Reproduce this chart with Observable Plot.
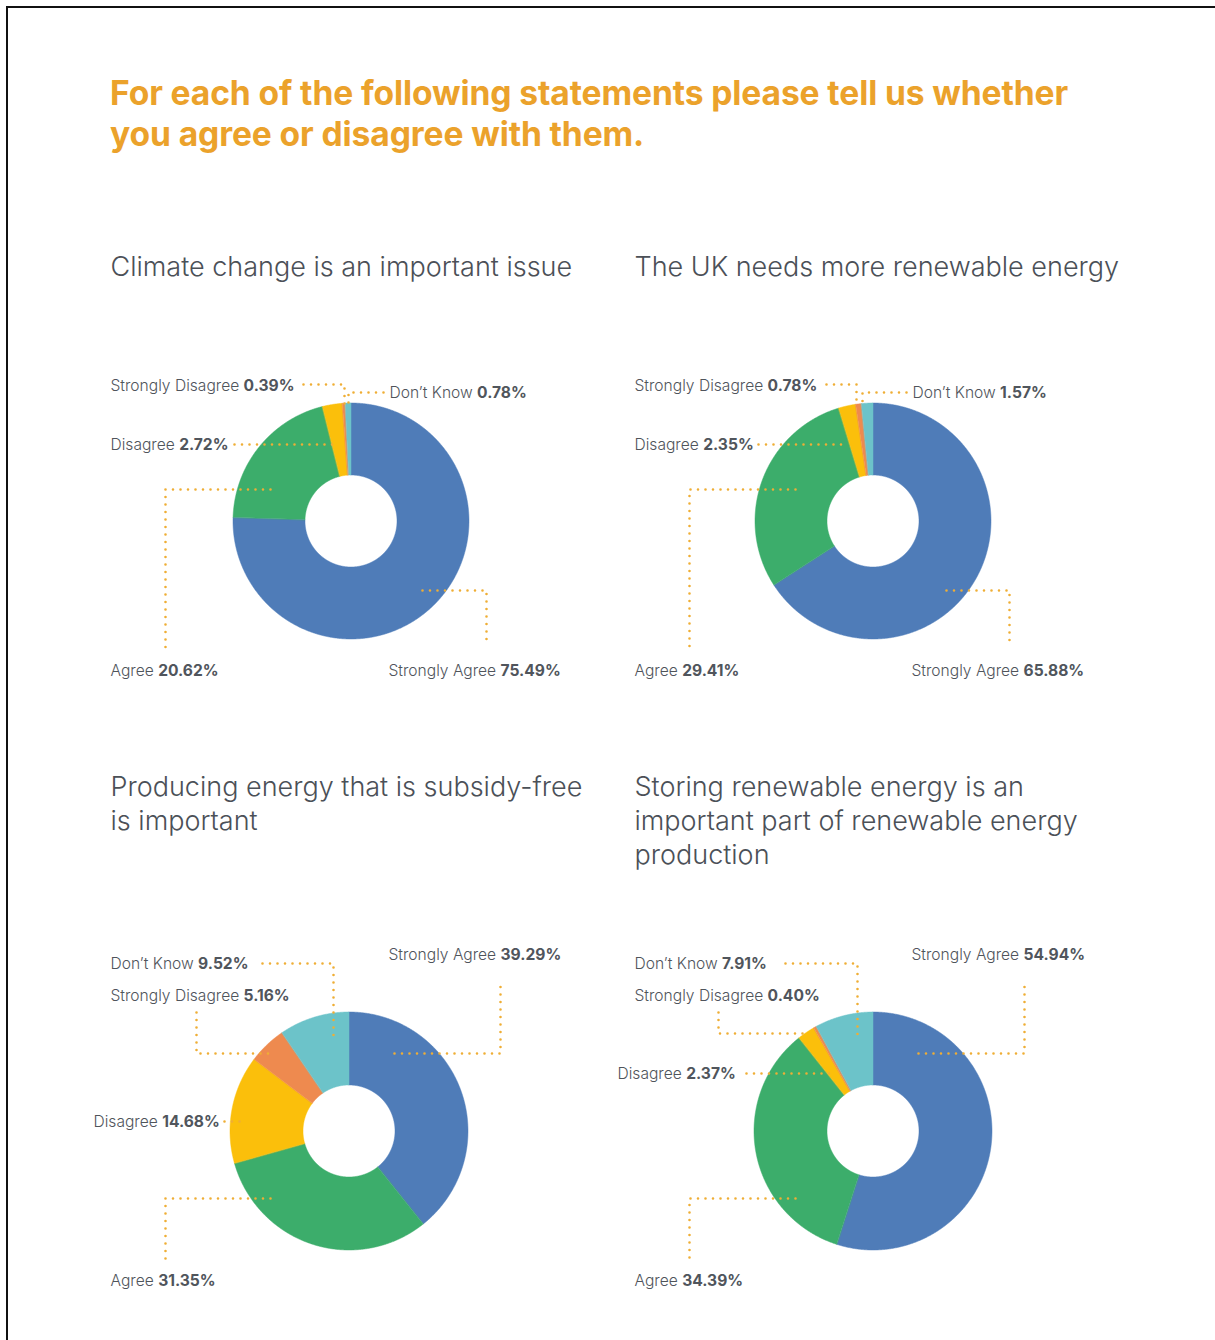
<!DOCTYPE html>
<html>
<head>
<meta charset="utf-8">
<script src="https://cdn.jsdelivr.net/npm/d3@7"></script>
<script src="https://cdn.jsdelivr.net/npm/@observablehq/plot@0.6"></script>
<style>
  html, body { margin: 0; padding: 0; background: #fff; }
  body { width: 1215px; height: 1340px; position: relative; overflow: hidden; font-family: Inter, Lato, sans-serif; }
  #frame { position: absolute; left: 6px; top: 6px; right: -4px; bottom: -4px; border-left: 2px solid #111; border-top: 2px solid #111; pointer-events: none; }
  #title { position: absolute; left: 110px; top: 72px; font-size: 33.6px; line-height: 41px; font-weight: 700; color: #EBA22B; margin: 0; white-space: nowrap; letter-spacing: -0.1px; }
  #chart { position: absolute; left: 0; top: 190px; }
</style>
</head>
<body>
<div id="frame"></div>
<h1 id="title">For each of the following statements please tell us whether<br>you agree or disagree with them.</h1>
<div id="chart"></div>
<script>
// ---------- DATA ----------
const responses = ["Strongly Agree", "Agree", "Disagree", "Strongly Disagree", "Don’t Know"];
const statements = [
  "Climate change is an important issue",
  "The UK needs more renewable energy",
  "Producing energy that is subsidy-free\nis important",
  "Storing renewable energy is an\nimportant part of renewable energy\nproduction"
];
const climateValues   = [75.49, 20.62, 2.72, 0.39, 0.78];
const renewableValues = [65.88, 29.41, 2.35, 0.78, 1.57];
const subsidyValues   = [39.29, 31.35, 14.68, 5.16, 9.52];
const storageValues   = [54.94, 34.39, 2.37, 0.40, 7.91];
const seriesValues = [climateValues, renewableValues, subsidyValues, storageValues];

// ---------- STYLE / LAYOUT ----------
const colors = ["#4F7CB8", "#3CAD6B", "#FBBF0B", "#EE8A4F", "#6CC3C9"];
const SVG_TOP = 190, W = 1215, H = 1340;
const FONT = "Inter, Lato, sans-serif";
const panels = [
  {cx: 351, cy: 521, ro: 118, ri: 46, title: [110, 265],
   labels: [
     {t: [388, 670], p: [[422,590],[486,590],[486,645]]},
     {t: [110, 670], p: [[270,489],[165,489],[165,652]]},
     {t: [110, 444], p: [[234,444],[333,444]]},
     {t: [110, 385], p: [[303,384],[344,384],[344,404]]},
     {t: [389, 392], p: [[383,392],[348,392],[348,404]]}
   ]},
  {cx: 873, cy: 521, ro: 118, ri: 46, title: [634, 265],
   labels: [
     {t: [911, 670], p: [[946,590],[1009,590],[1009,645]]},
     {t: [634, 670], p: [[795,489],[689,489],[689,652]]},
     {t: [634, 444], p: [[758,444],[848,444]]},
     {t: [634, 385], p: [[826,384],[856,384],[856,404]]},
     {t: [912, 392], p: [[906,392],[862,392],[862,404]]}
   ]},
  {cx: 349, cy: 1131, ro: 119, ri: 46, title: [110, 785],
   labels: [
     {t: [388, 954], p: [[394,1053],[500,1053],[500,983]]},
     {t: [110, 1280], p: [[270,1198],[165,1198],[165,1262]]},
     {t: [93, 1121], p: [[224,1121],[243,1121]]},
     {t: [110, 995], p: [[196,1012],[196,1053],[272,1053]]},
     {t: [110, 963], p: [[262,963],[333,963],[333,1035]]}
   ]},
  {cx: 873, cy: 1131, ro: 119, ri: 46, title: [634, 785],
   labels: [
     {t: [911, 954], p: [[918,1053],[1024,1053],[1024,983]]},
     {t: [634, 1280], p: [[795,1198],[689,1198],[689,1262]]},
     {t: [617, 1073], p: [[746,1073],[836,1073]]},
     {t: [634, 995], p: [[718,1012],[718,1033],[803,1033]]},
     {t: [634, 963], p: [[785,963],[857,963],[857,1035]]}
   ]}
];

// ---------- BUILD TABLES ----------
const arcRows = [], labelRows = [], leaderRows = [], titleRows = [];
const pie = d3.pie().sort(null).startAngle(0).endAngle(2 * Math.PI);
seriesValues.forEach((vals, pi) => {
  const P = panels[pi];
  pie(vals).forEach((a, i) => {
    const n = Math.max(2, Math.ceil((a.endAngle - a.startAngle) / 0.005));
    for (let k = 0; k <= n; k++) {
      const ang = a.startAngle + (a.endAngle - a.startAngle) * k / n;
      arcRows.push({
        key: pi + "-" + i, response: responses[i],
        xo: P.cx + P.ro * Math.sin(ang), yo: P.cy - P.ro * Math.cos(ang),
        xi: P.cx + P.ri * Math.sin(ang), yi: P.cy - P.ri * Math.cos(ang)
      });
    }
    const L = P.labels[i];
    labelRows.push({x: L.t[0], y: L.t[1], text: responses[i] + "|" + vals[i].toFixed(2) + "%"});
    L.p.forEach(([x, y]) => leaderRows.push({key: pi + "-" + i, x, y}));
  });
  titleRows.push({x: P.title[0], y: P.title[1], text: statements[pi]});
});

const TS = 27;
const chart = Plot.plot({
  width: W, height: H - SVG_TOP,
  margin: 0,
  x: {domain: [0, W], range: [0, W], axis: null},
  y: {domain: [SVG_TOP, H], range: [0, H - SVG_TOP], axis: null},
  color: {domain: responses, range: colors},
  style: {fontFamily: FONT, background: "transparent"},
  marks: [
    Plot.area(arcRows, {x1: "xo", y1: "yo", x2: "xi", y2: "yi", z: "key", fill: "response", stroke: "response", strokeWidth: 0.5}),
    Plot.line(leaderRows, {x: "x", y: "y", z: "key", stroke: "#EFAE35", strokeWidth: 2.6, strokeDasharray: "0,7.5", strokeLinecap: "round"}),
    Plot.text(titleRows, {x: "x", y: d => d.y - 0.52 * TS, text: "text", textAnchor: "start", lineAnchor: "top", lineHeight: 1.26, fontSize: TS, fontWeight: 300, fill: "#4B5057"}),
    Plot.text(labelRows, {x: "x", y: "y", text: "text", textAnchor: "start", fontSize: 15.6, fontWeight: 300, fill: "#4F545B", className: "lbl"})
  ]
});

// mixed-weight labels: category name regular, percentage bold
d3.select(chart).selectAll(".lbl text").each(function() {
  const t = d3.select(this);
  const [name, val] = t.text().split("|");
  t.text(null);
  t.append("tspan").text(name + " ");
  t.append("tspan").attr("font-weight", 700).attr("fill", "#50555C").text(val);
});

document.getElementById("chart").appendChild(chart);
</script>
</body>
</html>
